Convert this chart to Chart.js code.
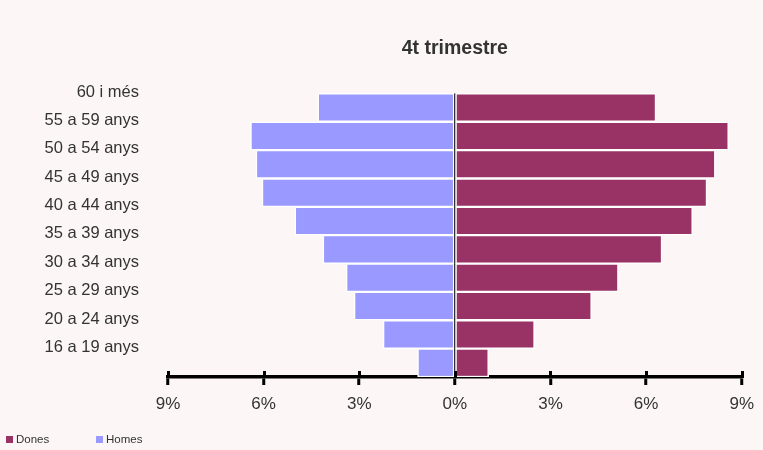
<!DOCTYPE html>
<html>
<head>
<meta charset="utf-8">
<script src="https://cdn.jsdelivr.net/npm/chart.js@4"></script>
<style>
  html, body { margin: 0; padding: 0; background: #fcf6f6; }
  #wrap { position: relative; width: 763px; height: 450px; }
  #legend { position: absolute; left: 6px; top: 433px; font: 11.5px 'Liberation Sans', Arial, sans-serif; color: #333; white-space: nowrap; }
  #legend span.item { display: inline-block; }
  #legend span.box { display: inline-block; width: 7px; height: 7px; margin-right: 3px; vertical-align: 0px; }
</style>
</head>
<body>
<div id="wrap">
  <canvas id="pyramid" width="763" height="450"></canvas>
  <div id="legend"></div>
</div>
<script>
var FONT = "'Liberation Sans', Arial, sans-serif";

// Age groups, top to bottom
var ageLabels = ['60 i més', '55 a 59 anys', '50 a 54 anys', '45 a 49 anys', '40 a 44 anys',
                 '35 a 39 anys', '30 a 34 anys', '25 a 29 anys', '20 a 24 anys', '16 a 19 anys'];

// Share of each group (%), men drawn to the left
var homesValues = [-4.30, -6.41, -6.24, -6.05, -5.02, -4.14, -3.41, -3.16, -2.25, -1.17];
var donesValues = [6.31, 8.59, 8.17, 7.91, 7.46, 6.50, 5.13, 4.29, 2.50, 1.06];

var axisMin = -9;
var axisMax = 9;
var axisStep = 3;

// Tick marks that cross the axis line (upper half)
var crossTicks = {
  id: 'crossTicks',
  afterDraw: function (chart) {
    var x = chart.scales.x;
    var ctx = chart.ctx;
    ctx.save();
    ctx.strokeStyle = '#000';
    ctx.lineWidth = 3;
    x.ticks.forEach(function (t) {
      var px = Math.round(x.getPixelForValue(t.value)) + 0.5;
      ctx.beginPath();
      ctx.moveTo(px, x.top - 6);
      ctx.lineTo(px, x.top + 1);
      ctx.stroke();
    });
    ctx.restore();
  }
};

var ctxPyramid = document.getElementById('pyramid');
var pyramidChart = new Chart(ctxPyramid, {
  type: 'bar',
  data: {
    labels: ageLabels,
    datasets: [{
      label: 'Dones',
      data: donesValues,
      backgroundColor: '#993366',
      borderColor: '#ffffff',
      borderWidth: 1.5,
      borderSkipped: false,
      barPercentage: 1,
      categoryPercentage: 1
    }, {
      label: 'Homes',
      data: homesValues,
      backgroundColor: '#9999ff',
      borderColor: '#ffffff',
      borderWidth: 1.5,
      borderSkipped: false,
      barPercentage: 1,
      categoryPercentage: 1
    }]
  },
  options: {
    indexAxis: 'y',
    responsive: false,
    animation: false,
    layout: { padding: { left: 0, right: 21, top: 0, bottom: 28 } },
    plugins: {
      legend: { display: false },
      tooltip: { enabled: false },
      title: {
        display: true,
        text: '4t trimestre',
        fullSize: false,
        color: '#333',
        font: { family: FONT, size: 19.5, weight: 'bold' },
        padding: { top: 37, bottom: 33 }
      }
    },
    scales: {
      x: {
        stacked: true,
        min: axisMin,
        max: axisMax,
        z: 1,
        border: { display: true, color: '#000', width: 3.5 },
        grid: {
          drawOnChartArea: true,
          color: function (c) { return c.tick && c.tick.value === 0 ? '#000' : 'rgba(0,0,0,0)'; },
          lineWidth: 1.5,
          drawTicks: true,
          tickColor: '#000',
          tickWidth: 3,
          tickLength: 8
        },
        ticks: {
          stepSize: axisStep,
          color: '#333',
          padding: 9,
          font: { family: FONT, size: 17 },
          callback: function (v) { return Math.abs(v) + '%'; }
        },
        afterFit: function (scale) { scale.height = 45; }
      },
      y: {
        stacked: true,
        grid: { display: false, drawTicks: false },
        border: { display: false },
        ticks: {
          color: '#333',
          padding: 29,
          labelOffset: -15.5,
          font: { family: FONT, size: 16.5 }
        },
        afterFit: function (scale) { scale.width = 168; }
      }
    }
  },
  plugins: [crossTicks]
});

// Legend below the chart, built from the datasets
var legendDiv = document.getElementById('legend');
pyramidChart.data.datasets.forEach(function (ds, i) {
  var item = document.createElement('span');
  item.className = 'item';
  item.style.width = i === 0 ? '90px' : 'auto';
  var box = document.createElement('span');
  box.className = 'box';
  box.style.background = ds.backgroundColor;
  item.appendChild(box);
  item.appendChild(document.createTextNode(ds.label));
  legendDiv.appendChild(item);
});
</script>
</body>
</html>
